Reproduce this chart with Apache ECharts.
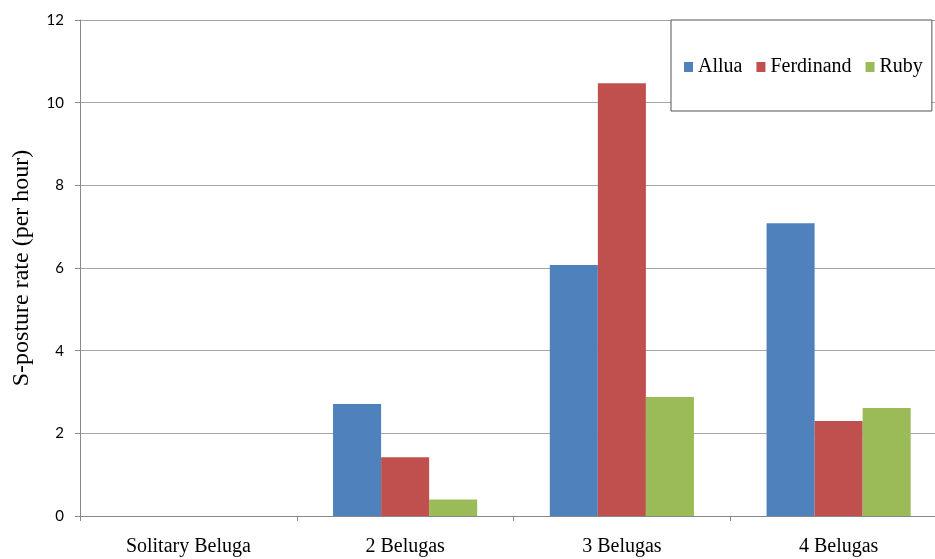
<!DOCTYPE html>
<html>
<head>
<meta charset="utf-8">
<script src="https://cdn.jsdelivr.net/npm/echarts@6/dist/echarts.min.js"></script>
<style>
  html, body { margin: 0; padding: 0; background: #fff; }
  #chart { width: 935px; height: 559px; }
</style>
</head>
<body>
<div id="chart"></div>
<script>
// Group sizes along the x axis
const categories = ['Solitary Beluga', '2 Belugas', '3 Belugas', '4 Belugas'];
// S-posture rate (per hour) for each whale
const allua = [0, 2.71, 6.07, 7.08];
const ferdinand = [0, 1.42, 10.47, 2.30];
const ruby = [0, 0.40, 2.88, 2.61];
const yTicks = [0, 2, 4, 6, 8, 10, 12];

const serif = '"Liberation Serif", "Times New Roman", serif';
const sans = 'Lato, "Open Sans", sans-serif';

const chart = echarts.init(document.getElementById('chart'), null, { renderer: 'canvas' });

function barSeries(name, data, color) {
  return {
    name: name,
    type: 'bar',
    data: data,
    barGap: '0%',
    barCategoryGap: '33.5%',
    itemStyle: { color: color },
    emphasis: { disabled: true }
  };
}

chart.setOption({
  animation: false,
  // plot area runs a little past the right edge of the canvas
  grid: { left: 80, width: 867, top: 20, bottom: 43, containLabel: false, outerBoundsMode: 'none' },
  legend: {
    left: 671,
    top: 20,
    orient: 'horizontal',
    padding: [37, 9, 34, 13],
    itemGap: 14,
    itemWidth: 9,
    itemHeight: 10,
    icon: 'rect',
    borderColor: '#555',
    borderWidth: 1,
    backgroundColor: '#fff',
    textStyle: { fontFamily: serif, fontSize: 20, color: '#000' },
    data: ['Allua', 'Ferdinand', 'Ruby']
  },
  xAxis: {
    type: 'category',
    data: categories,
    axisLine: { lineStyle: { color: '#888', width: 1 } },
    axisTick: { show: true, alignWithLabel: false, length: 5, lineStyle: { color: '#888' } },
    axisLabel: { fontFamily: serif, fontSize: 20, color: '#000', margin: 21 }
  },
  yAxis: {
    type: 'value',
    min: 0,
    max: 12,
    interval: 2,
    name: 'S-posture rate (per hour)',
    nameLocation: 'middle',
    nameGap: 46,
    nameTextStyle: { fontFamily: serif, fontSize: 24, color: '#000' },
    axisLine: { show: true, lineStyle: { color: '#888', width: 1 } },
    axisTick: { show: true, length: 5, lineStyle: { color: '#888' } },
    splitLine: { lineStyle: { color: '#a6a6a6', width: 1 } },
    axisLabel: {
      fontFamily: sans, fontSize: 15, color: '#000', margin: 16,
      formatter: function (v) { return yTicks.indexOf(v) >= 0 ? String(v) : ''; }
    }
  },
  series: [
    barSeries('Allua', allua, '#4F81BD'),
    barSeries('Ferdinand', ferdinand, '#C0504D'),
    barSeries('Ruby', ruby, '#9BBB59')
  ]
});
</script>
</body>
</html>
